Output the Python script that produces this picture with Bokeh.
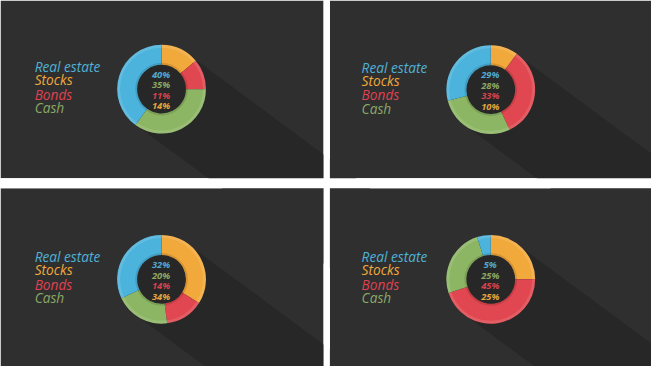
import math
from bokeh.plotting import figure
from bokeh.models import Range1d, ColumnDataSource
from bokeh.core.properties import value
from bokeh.embed import file_html
from bokeh.resources import INLINE

# ---------------- data ----------------
categories = ["Real estate", "Stocks", "Bonds", "Cash"]
real_estate = [40, 29, 32, 5]
stocks = [14, 10, 34, 25]
bonds = [11, 33, 14, 45]
cash = [35, 28, 20, 25]

# slice colours / text colours
wedge_colors = {"Real estate": "#4cb3dc", "Stocks": "#f2a93b", "Bonds": "#e04750", "Cash": "#8cb663"}
legend_colors = {"Real estate": "#4fb1d6", "Stocks": "#f0a93b", "Bonds": "#df4251", "Cash": "#8ba866"}
pct_colors = {"Real estate": "#52a9cf", "Stocks": "#e6a53c", "Bonds": "#d9424c", "Cash": "#8fa862"}

# order of slices clockwise from 12 o'clock, and order of centre labels
slice_order = ["Stocks", "Bonds", "Cash", "Real estate"]
label_order = ["Real estate", "Cash", "Bonds", "Stocks"]

# ---------------- layout (pixel positions of the reference) ----------------
W, H = 667, 382
FW, FH = 651, 366
S = FW / W
panels = [  # x0, x1, y0, y1 (pixels from top-left)
    (0, 331, 0, 185.5),
    (337.5, 667, 0, 185.5),
    (0, 331, 196, 382),
    (337.5, 667, 196, 382),
]
centers = [(165, 92.5), (502.3, 93), (165, 291), (502.3, 291)]
legend_x = [35, 370, 35, 370]
legend_dy = [-23.5, -9.8, 5.5, 19.2]
pct_dy = [-15.5, -4.5, 6.5, 17.5]
R_OUT, R_IN = 45.5, 25.0
SH_ANGLE = math.radians(37)
BG = "#2f2f2f"
SHADOW = "#272727"


def Y(py):
    return H - py


p = figure(width=FW, height=FH, x_range=Range1d(0, W), y_range=Range1d(0, H),
           output_backend="svg", toolbar_location=None, min_border=0,
           min_border_left=0, min_border_right=0, min_border_top=0, min_border_bottom=0)
p.axis.visible = False
p.grid.visible = False
p.outline_line_color = None
p.background_fill_color = "white"
p.border_fill_color = "white"

# panel backgrounds and long shadows
for (x0, x1, y0, y1), (cx, cy) in zip(panels, centers):
    p.quad(left=[x0], right=[x1], top=[Y(y0)], bottom=[Y(y1)], fill_color=BG, line_color=None)
    dx, dy = math.cos(SH_ANGLE), math.sin(SH_ANGLE)
    nx, ny = math.sin(SH_ANGLE), -math.cos(SH_ANGLE)
    L = 600
    xs = [cx + R_OUT * nx, cx + R_OUT * nx + L * dx, cx - R_OUT * nx + L * dx, cx - R_OUT * nx]
    ys = [cy + R_OUT * ny, cy + R_OUT * ny + L * dy, cy - R_OUT * ny + L * dy, cy - R_OUT * ny]
    p.patch(xs, [Y(y) for y in ys], fill_color=SHADOW, line_color=None)
    p.circle(x=[cx], y=[Y(cy)], radius=R_OUT, fill_color=SHADOW, line_color=None)

# white gaps between panels
p.quad(left=[331], right=[337.5], top=[Y(0)], bottom=[Y(H)], fill_color="white", line_color=None)
p.quad(left=[0], right=[W], top=[Y(185.5)], bottom=[Y(196)], fill_color="white", line_color=None)

series = {"Real estate": real_estate, "Stocks": stocks, "Bonds": bonds, "Cash": cash}

for i, (cx, cy) in enumerate(centers):
    vals = [series[c][i] for c in slice_order]
    total = float(sum(vals))
    starts, ends, cols = [], [], []
    cum = 0.0
    for c, v in zip(slice_order, vals):
        starts.append(math.pi / 2 - 2 * math.pi * cum / total)
        cum += v
        ends.append(math.pi / 2 - 2 * math.pi * cum / total)
        cols.append(wedge_colors[c])
    src = ColumnDataSource(dict(x=[cx] * 4, y=[Y(cy)] * 4, s=starts, e=ends, c=cols))
    p.annular_wedge(x="x", y="y", inner_radius=R_IN, outer_radius=R_OUT, start_angle="s",
                    end_angle="e", direction="clock", fill_color="c", line_color=None, source=src)
    # bevel: light outer rim, darker inner rim
    p.annulus(x=[cx], y=[Y(cy)], inner_radius=R_OUT - 3, outer_radius=R_OUT,
              fill_color="white", fill_alpha=0.12, line_color=None)
    p.annulus(x=[cx], y=[Y(cy)], inner_radius=R_IN, outer_radius=R_IN + 2,
              fill_color="black", fill_alpha=0.12, line_color=None)

    # legend
    lsrc = ColumnDataSource(dict(x=[legend_x[i]] * 4, y=[Y(cy + d) for d in legend_dy],
                                 t=categories, c=[legend_colors[c] for c in categories]))
    p.text(x="x", y="y", text="t", text_color="c", source=lsrc, text_font=value("Open Sans"),
           text_font_size="%.1fpx" % (14 * S), text_font_style="italic",
           text_baseline="middle", text_align="left")

    # centre percentages
    psrc = ColumnDataSource(dict(x=[cx - 0.5] * 4, y=[Y(cy + d) for d in pct_dy],
                                 t=["%d%%" % series[c][i] for c in label_order],
                                 c=[pct_colors[c] for c in label_order]))
    p.text(x="x", y="y", text="t", text_color="c", source=psrc, text_font=value("Open Sans"),
           text_font_size="%.1fpx" % (9.5 * S), text_font_style="bold italic",
           text_baseline="middle", text_align="center")

open("out.html", "w").write(file_html(p, INLINE))
